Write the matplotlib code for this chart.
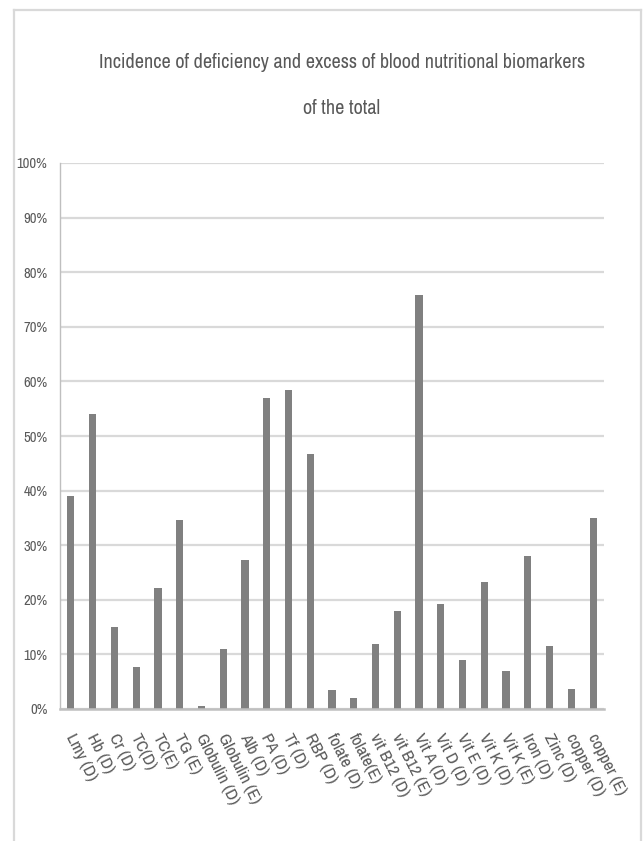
import matplotlib
matplotlib.use("Agg")
import matplotlib.pyplot as plt
from matplotlib.lines import Line2D
from matplotlib.ticker import PercentFormatter, MultipleLocator
from matplotlib.transforms import ScaledTranslation

plt.rcParams['font.family'] = ['Archivo Narrow', 'Liberation Sans', 'DejaVu Sans']

# Biomarker categories (D = deficiency, E = excess)
categories = [
    "Lmy (D)", "Hb (D)", "Cr (D)", "TC(D)", "TC(E)", "TG (E)",
    "Globulin (D)", "Globulin (E)", "Alb (D)", "PA (D)", "Tf (D)", "RBP (D)",
    "folate (D)", "folate(E)", "vit B12 (D)", "vit B12 (E)", "Vit A (D)",
    "Vit D (D)", "Vit E (D)", "Vit K (D)", "Vit K (E)", "Iron (D)",
    "Zinc (D)", "copper (D)", "copper (E)",
]

# Incidence (% of total)
incidence = [
    39.1, 54.0, 15.0, 7.7, 22.1, 34.7,
    0.6, 10.9, 27.3, 57.0, 58.4, 46.7,
    3.4, 2.1, 11.9, 18.0, 75.8,
    19.3, 8.9, 23.3, 6.9, 28.0,
    11.5, 3.7, 35.0,
]

title_lines = ["Incidence of deficiency and excess of blood nutritional biomarkers",
               "of the total"]

TEXT = "#595959"
GRID = "#d9d9d9"
BAR = "#808080"

W, H = 643, 841
fig = plt.figure(figsize=(W / 100, H / 100), dpi=100)
fig.patch.set_facecolor("white")

# chart-area frame (left, top, right edges)
frame_kw = dict(color=GRID, lw=1.6, transform=fig.transFigure)
fig.add_artist(Line2D([14 / W, 14 / W], [0, 1 - 10 / H], **frame_kw))
fig.add_artist(Line2D([14 / W, 641 / W], [1 - 10 / H, 1 - 10 / H], **frame_kw))
fig.add_artist(Line2D([641 / W, 641 / W], [0, 1 - 10 / H], **frame_kw))

ax = fig.add_axes([60 / W, 1 - 709 / H, (604 - 60) / W, (709 - 163) / H])
x = list(range(len(categories)))
ax.bar(x, incidence, width=0.33, color=BAR, zorder=3)

ax.set_xlim(-0.5, len(categories) - 0.5)
ax.set_ylim(0, 100)
ax.yaxis.set_major_locator(MultipleLocator(10))
ax.yaxis.set_major_formatter(PercentFormatter(decimals=0))
ax.grid(axis="y", color=GRID, lw=1.6, zorder=0)
ax.set_axisbelow(True)

for side in ("top", "right"):
    ax.spines[side].set_visible(False)
ax.spines["left"].set_color("#bfbfbf")
ax.spines["left"].set_linewidth(1.0)
ax.spines["bottom"].set_color("#bfbfbf")
ax.spines["bottom"].set_linewidth(1.8)
ax.spines["bottom"].set_zorder(4)

ax.tick_params(axis="y", length=0, pad=9, labelsize=10.5, labelcolor=TEXT)
ax.tick_params(axis="x", length=0, pad=16, labelsize=12.5, labelcolor=TEXT)
ax.set_xticks(x)
ax.set_xticklabels(categories, rotation=-63, ha="left", va="top",
                   rotation_mode="anchor")
shift = ScaledTranslation(5 / 100, 0, fig.dpi_scale_trans)
for lbl in ax.get_xticklabels():
    lbl.set_transform(lbl.get_transform() + shift)

fig.text(342 / W, 1 - 63 / H, title_lines[0], ha="center", va="center",
         fontsize=14.5, color=TEXT)
fig.text(342 / W, 1 - 108 / H, title_lines[1], ha="center", va="center",
         fontsize=14.5, color=TEXT)

fig.savefig("out.png", dpi=100, facecolor="white")
